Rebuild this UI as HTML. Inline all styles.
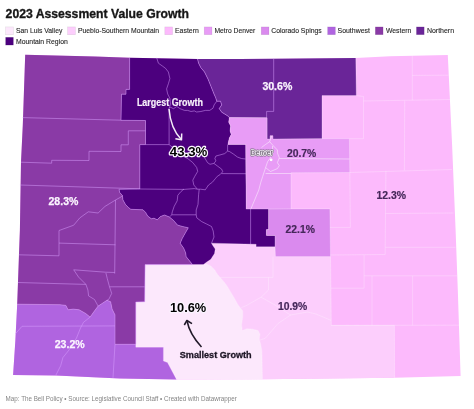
<!DOCTYPE html>
<html><head><meta charset="utf-8"><style>
html,body{margin:0;padding:0;background:#fff;width:474px;height:409px;overflow:hidden}
svg{display:block;will-change:transform}
text{font-family:"Liberation Sans",sans-serif}
.t{font-size:13.4px;font-weight:bold;fill:#161616;stroke:#161616;stroke-width:0.35px}
.lg{font-size:7.6px;fill:#262626;stroke:#262626;stroke-width:0.12px}
.ft{font-size:7.3px;fill:#858585}
.cl{fill:none;stroke:#d8a0ff;stroke-opacity:0.55;stroke-width:0.9;stroke-linejoin:round}
.clm{fill:none;stroke:#fff;stroke-opacity:0.5;stroke-width:0.95;stroke-linejoin:round}
.cll{fill:none;stroke:#fff;stroke-opacity:0.32;stroke-width:0.8;stroke-linejoin:round}
.lbw{font-size:10.8px;font-weight:bold;fill:#fbf4ff;stroke:#fbf4ff;stroke-width:0.25px}
.lbd{font-size:10.8px;font-weight:bold;fill:#45275a;stroke:#45275a;stroke-width:0.2px}
.big{font-size:13.2px;font-weight:bold;fill:#000;stroke:#faf4ff;stroke-width:2.4px;paint-order:stroke;stroke-linejoin:round}
.ann{font-size:10.1px;font-weight:bold}
</style></head><body>
<svg width="474" height="409" viewBox="0 0 474 409">
<text x="5.6" y="17.6" class="t" textLength="183.3" lengthAdjust="spacingAndGlyphs">2023 Assessment Value Growth</text>
<rect x="5.6" y="26.9" width="7.8" height="7.8" fill="#fce8fc" stroke="#000" stroke-opacity="0.1" stroke-width="0.6"/><text x="16.0" y="33.3" class="lg" textLength="46.3" lengthAdjust="spacingAndGlyphs">San Luis Valley</text><rect x="67.6" y="26.9" width="7.8" height="7.8" fill="#fccefc" stroke="#000" stroke-opacity="0.1" stroke-width="0.6"/><text x="78.0" y="33.3" class="lg" textLength="81" lengthAdjust="spacingAndGlyphs">Pueblo-Southern Mountain</text><rect x="164.8" y="26.9" width="7.8" height="7.8" fill="#fcbafc" stroke="#000" stroke-opacity="0.1" stroke-width="0.6"/><text x="175.0" y="33.3" class="lg" textLength="23.8" lengthAdjust="spacingAndGlyphs">Eastern</text><rect x="204.2" y="26.9" width="7.8" height="7.8" fill="#e89cf6" stroke="#000" stroke-opacity="0.1" stroke-width="0.6"/><text x="214.5" y="33.3" class="lg" textLength="40.8" lengthAdjust="spacingAndGlyphs">Metro Denver</text><rect x="261.2" y="26.9" width="7.8" height="7.8" fill="#da8aee" stroke="#000" stroke-opacity="0.1" stroke-width="0.6"/><text x="271.2" y="33.3" class="lg" textLength="50.6" lengthAdjust="spacingAndGlyphs">Colorado Spings</text><rect x="327.6" y="26.9" width="7.8" height="7.8" fill="#b064e0" stroke="#000" stroke-opacity="0.1" stroke-width="0.6"/><text x="337.5" y="33.3" class="lg" textLength="32.4" lengthAdjust="spacingAndGlyphs">Southwest</text><rect x="375.3" y="26.9" width="7.8" height="7.8" fill="#8a3aa6" stroke="#000" stroke-opacity="0.1" stroke-width="0.6"/><text x="386.0" y="33.3" class="lg" textLength="25.3" lengthAdjust="spacingAndGlyphs">Western</text><rect x="416.4" y="26.9" width="7.8" height="7.8" fill="#6a2598" stroke="#000" stroke-opacity="0.1" stroke-width="0.6"/><text x="426.90000000000003" y="33.3" class="lg" textLength="27.2" lengthAdjust="spacingAndGlyphs">Northern</text><rect x="5.6" y="37.3" width="7.8" height="7.8" fill="#4c007e" stroke="#000" stroke-opacity="0.1" stroke-width="0.6"/><text x="16.0" y="43.9" class="lg" textLength="51.8" lengthAdjust="spacingAndGlyphs">Mountain Region</text>
<polygon points="25.2,54.8 95.0,56.4 129.6,57.8 197.5,58.9 240.0,59.0 273.7,58.8 355.8,58.0 390.0,56.3 447.8,55.1 452.1,145.0 455.6,230.0 457.8,290.0 460.6,376.1 394.6,377.8 262.5,379.3 176.5,379.4 120.0,378.4 56.0,375.6 13.1,375.0 15.4,340.0 17.2,304.2 18.8,260.0 19.9,230.0 21.0,162.0 22.8,125.0" fill="#fcbafc"/><polygon points="211.5,243.2 256.1,244.3 256.1,246.8 275.0,246.8 275.5,256.6 330.5,256.6 331.3,325.4 394.4,325.4 394.6,377.8 262.5,379.3 262.5,379.3 262.2,365.0 261.8,350.0 260.6,344.0 259.3,339.1 260.0,334.2 258.1,330.6 253.2,329.3 247.1,328.7 242.2,330.6 241.6,324.4 242.8,317.1 242.8,311.0 237.8,304.5 234.1,297.8 230.5,291.7 226.8,285.6 223.1,280.7 217.6,274.6 214.6,269.7 210.9,266.0 206.5,264.0 203.5,264.5 206.4,262.3 210.8,259.3 214.5,253.5 215.2,249.1 212.3,244.7" fill="#fccefc"/><polygon points="145.1,264.6 192.5,264.6 203.5,264.5 206.5,264.0 210.9,266.0 214.6,269.7 217.6,274.6 223.1,280.7 226.8,285.6 230.5,291.7 234.1,297.8 237.8,304.5 242.8,311.0 242.8,317.1 241.6,324.4 242.2,330.6 247.1,328.7 253.2,329.3 258.1,330.6 260.0,334.2 259.3,339.1 260.6,344.0 261.8,350.0 262.2,365.0 262.5,379.3 176.5,379.4 167.5,362.6 163.4,360.9 163.4,347.2 135.8,347.2 135.8,302.0 144.7,301.8" fill="#fce8fc"/><polygon points="17.2,304.2 60.0,304.7 65.9,305.4 68.1,309.8 73.2,309.1 79.1,309.8 85.7,313.5 90.1,317.1 93.7,312.0 98.1,306.1 102.5,303.2 106.9,300.3 110.6,301.7 112.1,309.1 115.0,314.9 115.0,344.3 135.8,344.3 135.8,347.2 163.4,347.2 163.4,360.9 167.5,362.6 176.5,379.4 120.0,378.4 56.0,375.6 13.1,375.0 15.4,340.0" fill="#b064e0"/><polygon points="25.2,54.8 95.0,56.4 129.6,57.8 129.6,89.4 126.0,89.4 126.0,94.2 121.5,94.2 121.0,120.3 145.5,120.5 145.5,144.6 139.8,144.6 139.8,189.0 119.0,189.3 119.7,192.4 122.4,195.5 122.9,199.8 125.5,204.5 128.7,207.7 130.8,209.3 143.0,209.8 145.6,212.4 147.7,216.1 151.4,218.8 154.0,218.2 157.2,219.8 160.4,216.6 164.5,215.0 169.4,217.0 173.5,220.4 177.5,225.1 182.2,226.4 188.3,227.8 185.6,232.5 182.2,238.6 180.2,243.3 183.6,248.0 185.6,252.7 186.2,256.7 188.9,260.1 192.5,264.6 192.5,264.6 145.1,264.6 144.7,301.8 135.8,302.0 135.8,344.3 135.8,344.3 115.0,344.3 115.0,314.9 112.1,309.1 110.6,301.7 106.9,300.3 102.5,303.2 98.1,306.1 93.7,312.0 90.1,317.1 85.7,313.5 79.1,309.8 73.2,309.1 68.1,309.8 65.9,305.4 60.0,304.7 17.2,304.2 18.8,260.0 19.9,230.0 21.0,162.0 22.8,125.0" fill="#8a3aa6"/><polygon points="129.6,57.8 129.6,89.4 126.0,89.4 126.0,94.2 121.5,94.2 121.0,120.3 145.5,120.5 145.5,144.6 139.8,144.6 139.8,189.0 119.0,189.3 119.7,192.4 122.4,195.5 122.9,199.8 125.5,204.5 128.7,207.7 130.8,209.3 143.0,209.8 145.6,212.4 147.7,216.1 151.4,218.8 154.0,218.2 157.2,219.8 160.4,216.6 164.5,215.0 169.4,217.0 173.5,220.4 177.5,225.1 182.2,226.4 188.3,227.8 185.6,232.5 182.2,238.6 180.2,243.3 183.6,248.0 185.6,252.7 186.2,256.7 188.9,260.1 192.5,264.6 203.5,264.5 206.4,262.3 210.8,259.3 214.5,253.5 215.2,249.1 212.3,244.7 211.5,243.2 256.1,244.3 256.1,246.8 275.0,246.8 275.0,235.5 266.4,235.5 266.4,229.6 268.6,229.6 268.6,209.1 246.2,209.1 245.9,175.0 245.7,144.4 227.9,144.4 229.3,138.1 231.2,134.4 230.0,130.8 230.6,125.9 228.7,122.2 229.3,117.6 227.8,115.9 221.7,112.2 219.2,108.6 221.7,104.9 220.5,101.2 216.8,101.2 215.6,97.6 214.0,94.0 211.1,86.7 208.1,79.3 204.5,72.0 200.8,67.6 198.6,63.2 197.5,58.9" fill="#4c007e"/><polygon points="197.5,58.9 240.0,59.0 273.7,58.8 355.8,58.0 356.3,95.6 322.0,95.6 322.0,138.7 273.0,139.0 273.0,135.8 270.0,135.8 270.0,139.0 267.1,139.0 267.1,117.7 229.3,117.6 227.8,115.9 221.7,112.2 219.2,108.6 221.7,104.9 220.5,101.2 216.8,101.2 215.6,97.6 214.0,94.0 211.1,86.7 208.1,79.3 204.5,72.0 200.8,67.6 198.6,63.2 197.5,58.9" fill="#6a2598"/><polygon points="229.3,117.6 267.1,117.7 267.1,139.0 270.0,139.0 270.0,135.8 273.0,135.8 273.0,139.0 322.0,138.7 349.4,138.7 349.8,172.5 291.0,172.8 291.0,208.9 268.6,209.1 246.2,209.1 245.9,175.0 245.7,144.4 227.9,144.4 229.3,138.1 231.2,134.4 230.0,130.8 230.6,125.9 228.7,122.2 229.3,117.6" fill="#e89cf6"/><polygon points="268.6,209.1 291.0,208.9 329.9,208.9 330.5,256.6 275.5,256.6 275.0,246.8 275.0,235.5 266.4,235.5 266.4,229.6 268.6,229.6" fill="#da8aee"/>
<g class="cl"><polyline points="22.5,117.6 121.0,120.2"/><polyline points="21.0,162.2 51.7,163.2 51.7,160.3 89.0,160.5 89.0,151.3 121.0,151.5 121.0,144.8 128.3,144.8 128.3,130.8 145.5,130.8"/><polyline points="19.9,185.0 139.8,188.8"/><polyline points="122.4,195.5 121.1,196.9 115.5,200.0 105.0,206.4 98.1,213.0 88.3,211.8 79.8,217.9 73.7,225.2 60.2,230.1 59.0,230.5 59.0,255.8 18.6,254.8"/><polyline points="59.0,243.1 115.5,244.8"/><polyline points="115.5,200.0 114.7,273.6"/><polyline points="73.7,269.8 105.5,272.2 114.7,272.5"/><polyline points="73.7,269.8 78.6,277.1 85.9,284.4 87.9,290.0 88.6,295.9 94.5,299.5 98.1,306.1"/><polyline points="17.8,282.5 85.9,284.4"/><polyline points="105.9,272.9 107.3,278.7 109.5,286.8 111.7,293.4 108.8,299.3 106.9,300.3"/><polyline points="109.5,286.8 144.7,286.8"/><polyline points="15.3,334.0 22.0,326.3 115.0,325.9"/><polyline points="90.1,317.1 83.5,322.3 80.5,328.0 76.5,338.0 69.0,350.0 62.9,357.6 60.7,365.7 55.8,375.3"/><polyline points="115.0,344.3 113.0,377.8"/><polyline points="156.7,57.8 158.4,63.2 162.5,66.1 165.5,68.3 168.4,72.0 169.9,78.6 168.4,83.7 166.6,88.9 167.7,94.0 169.9,98.4 170.6,104.3 169.1,108.2"/><polyline points="169.1,108.2 170.2,107.1 173.5,108.7 176.8,106.5 180.1,108.7 184.5,110.4 187.7,110.4 191.0,111.5 194.3,110.9 196.5,112.0 200.9,111.5 205.3,110.4 209.7,110.4 213.0,108.2 214.1,104.9 216.8,101.2"/><polyline points="169.1,108.2 169.1,144.6"/><polyline points="145.5,144.6 169.1,144.6"/><polyline points="169.1,144.6 184.0,156.6 187.9,158.7 192.8,162.6 196.7,167.5 197.7,171.4 194.8,176.3 192.8,180.2 193.8,185.0 197.4,189.2"/><polyline points="139.8,189.0 184.0,189.4 194.3,188.6 197.4,189.2 200.5,189.2 205.3,189.8"/><polyline points="184.0,189.0 180.9,191.6 177.8,195.3 177.2,200.8 174.2,206.3 172.3,211.8 171.7,214.8 169.9,216.7"/><polyline points="171.7,214.8 196.2,214.8"/><polyline points="199.2,189.2 198.6,194.7 198.0,204.4 196.2,210.0 196.2,214.8 196.8,217.9 201.7,221.6 206.6,224.0 211.5,226.5 213.2,231.0 214.0,237.0 211.5,243.2"/><polyline points="205.3,189.8 208.5,185.0 212.4,182.2 215.3,178.7 217.3,176.3 220.2,174.5 222.7,171.7 221.7,169.2 217.8,166.3 213.9,163.4"/><polyline points="203.5,156.2 204.6,157.7 207.5,162.6 210.0,164.3 213.9,163.4"/><polyline points="213.9,163.4 215.9,160.9 214.9,158.5 215.9,156.0 219.8,155.0 224.7,153.6 227.6,151.1"/><polyline points="227.6,144.6 227.6,151.1 229.6,151.6 233.5,154.1 237.4,157.0 241.3,158.5 245.7,159.0"/><polyline points="221.5,173.6 245.9,173.7"/><polyline points="250.6,209.1 250.6,244.0"/><polyline points="273.7,58.8 273.7,111.4 266.6,111.4 266.6,117.7"/><polyline points="129.6,57.8 129.6,89.4 126.0,89.4 126.0,94.2 121.5,94.2 121.0,120.3 145.5,120.5 145.5,144.6 139.8,144.6 139.8,189.0 119.0,189.3 119.7,192.4 122.4,195.5 122.9,199.8 125.5,204.5 128.7,207.7 130.8,209.3 143.0,209.8 145.6,212.4 147.7,216.1 151.4,218.8 154.0,218.2 157.2,219.8 160.4,216.6 164.5,215.0 169.4,217.0 173.5,220.4 177.5,225.1 182.2,226.4 188.3,227.8 185.6,232.5 182.2,238.6 180.2,243.3 183.6,248.0 185.6,252.7 186.2,256.7 188.9,260.1 192.5,264.6"/><polyline points="192.5,264.6 145.1,264.6 144.7,301.8 135.8,302.0 135.8,344.3"/><polyline points="135.8,344.3 115.0,344.3 115.0,314.9 112.1,309.1 110.6,301.7 106.9,300.3 102.5,303.2 98.1,306.1 93.7,312.0 90.1,317.1 85.7,313.5 79.1,309.8 73.2,309.1 68.1,309.8 65.9,305.4 60.0,304.7 17.2,304.2"/><polyline points="229.3,117.6 227.8,115.9 221.7,112.2 219.2,108.6 221.7,104.9 220.5,101.2 216.8,101.2 215.6,97.6 214.0,94.0 211.1,86.7 208.1,79.3 204.5,72.0 200.8,67.6 198.6,63.2 197.5,58.9"/></g><g class="cll"><polyline points="356.3,95.6 363.5,96.5 363.5,138.7 349.4,138.7"/><polyline points="363.5,101.0 450.0,99.5"/><polyline points="404.7,100.8 404.4,170.5"/><polyline points="412.3,55.6 412.3,100.3"/><polyline points="412.3,75.4 448.6,75.2"/><polyline points="349.8,172.5 452.0,169.5"/><polyline points="385.9,170.8 385.2,247.3"/><polyline points="385.6,213.5 453.5,213.0"/><polyline points="385.2,247.3 455.5,247.3"/><polyline points="349.8,172.5 350.4,227.4 330.0,227.4"/><polyline points="330.3,255.0 385.2,254.5 385.2,247.3"/><polyline points="364.1,255.0 364.1,288.2 331.0,288.2"/><polyline points="364.1,275.8 457.0,275.8"/><polyline points="372.0,275.8 372.0,325.3"/><polyline points="412.6,275.8 412.6,325.3"/><polyline points="331.3,325.4 460.0,325.2"/><polyline points="273.0,256.6 273.0,277.4 220.2,277.4"/><polyline points="268.5,277.4 268.5,290.0 261.1,297.2 246.3,305.6 241.5,307.5"/><polyline points="261.1,297.2 275.0,305.0 290.6,315.0 307.5,312.0 316.0,314.0 331.1,320.4"/><polyline points="290.6,315.0 278.0,323.5 265.3,338.3 260.0,340.0"/><polyline points="203.5,264.5 206.5,264.0 210.9,266.0 214.6,269.7 217.6,274.6 223.1,280.7 226.8,285.6 230.5,291.7 234.1,297.8 237.8,304.5 242.8,311.0 242.8,317.1 241.6,324.4 242.2,330.6 247.1,328.7 253.2,329.3 258.1,330.6 260.0,334.2 259.3,339.1 260.6,344.0 261.8,350.0 262.2,365.0 262.5,379.3"/><polyline points="192.5,264.6 203.5,264.5 206.4,262.3 210.8,259.3 214.5,253.5 215.2,249.1 212.3,244.7 211.5,243.2 256.1,244.3 256.1,246.8 275.0,246.8"/><polyline points="275.0,246.8 275.0,235.5 266.4,235.5 266.4,229.6 268.6,229.6 268.6,209.1 246.2,209.1"/><polyline points="246.2,209.1 245.9,175.0 245.7,144.4 227.9,144.4 229.3,138.1 231.2,134.4 230.0,130.8 230.6,125.9 228.7,122.2 229.3,117.6"/><polyline points="356.3,95.6 322.0,95.6 322.0,138.7 273.0,139.0 273.0,135.8 270.0,135.8 270.0,139.0 267.1,139.0 267.1,117.7 229.3,117.6"/><polyline points="355.8,58.0 356.3,95.6"/><polyline points="322.0,138.7 349.4,138.7 349.8,172.5 291.0,172.8 291.0,208.9 268.6,209.1"/><polyline points="291.0,208.9 329.9,208.9 330.5,256.6 275.5,256.6 275.0,246.8"/><polyline points="330.5,256.6 331.3,325.4 394.4,325.4 394.6,377.8"/><polyline points="135.8,344.3 135.8,347.2 163.4,347.2 163.4,360.9 167.5,362.6 176.5,379.4"/></g><g class="clm"><polyline points="271.6,135.9 269.7,141.7 265.5,144.5 261.5,147.5"/><polyline points="269.7,141.7 273.5,146.0 277.4,150.0 277.4,152.9 279.3,157.8 277.4,162.7 279.3,165.6 277.4,168.6 270.5,171.5 265.6,167.6"/><polyline points="272.5,146.0 272.5,154.9 267.6,161.7 265.6,167.6 262.7,176.4 260.8,182.3 258.8,190.0 251.0,208.7"/><polyline points="279.3,158.5 349.6,159.0"/><polyline points="265.6,173.5 291.0,173.5"/></g>
<text x="262.4" y="90.0" class="lbw" textLength="29.9" lengthAdjust="spacingAndGlyphs">30.6%</text><text x="286.9" y="157.0" class="lbd" textLength="29.4" lengthAdjust="spacingAndGlyphs">20.7%</text><text x="376.4" y="199.3" class="lbd" textLength="29.6" lengthAdjust="spacingAndGlyphs">12.3%</text><text x="48.5" y="204.8" class="lbw" textLength="29.9" lengthAdjust="spacingAndGlyphs">28.3%</text><text x="285.6" y="232.6" class="lbd" textLength="29.4" lengthAdjust="spacingAndGlyphs">22.1%</text><text x="277.9" y="310.1" class="lbd" textLength="29.4" lengthAdjust="spacingAndGlyphs">10.9%</text><text x="54.7" y="347.6" class="lbw" textLength="30.1" lengthAdjust="spacingAndGlyphs">23.2%</text><text x="169.8" y="156.0" class="big" textLength="37.4" lengthAdjust="spacingAndGlyphs">43.3%</text><text x="169.9" y="312.0" class="big" textLength="36.4" lengthAdjust="spacingAndGlyphs">10.6%</text><text x="136.9" y="105.8" class="ann" textLength="66.0" lengthAdjust="spacingAndGlyphs" fill="#f6eefa" style="stroke:#f6eefa;stroke-width:0.2px">Largest Growth</text><text x="179.7" y="358.3" class="ann" textLength="72.0" lengthAdjust="spacingAndGlyphs" fill="#1c1424" style="font-size:9.7px;stroke:#1c1424;stroke-width:0.3px">Smallest Growth</text>
<path d="M169,109 C170,121 174,132 181.3,139.6" fill="none" stroke="#f4ecf8" stroke-width="1.5"/>
<path d="M175.4,138.8 L181.5,139.8 L181.7,133.6" fill="none" stroke="#f4ecf8" stroke-width="1.5" stroke-linejoin="round"/>
<path d="M201.5,347 C195,340 189,331 186.9,320.5" fill="none" stroke="#221a2a" stroke-width="1.55"/>
<path d="M184.3,325 L186.9,320.5 L192,323.6" fill="none" stroke="#221a2a" stroke-width="1.55" stroke-linejoin="round"/>
<text x="250.8" y="154.6" textLength="22.0" lengthAdjust="spacingAndGlyphs" style="font-size:8.0px;fill:#7a6a82;stroke:#7a6a82;stroke-width:2.8px;stroke-linejoin:round">Denver</text>
<text x="250.8" y="154.6" textLength="22.0" lengthAdjust="spacingAndGlyphs" style="font-size:8.0px;fill:#f4eef6;stroke:#f4eef6;stroke-width:1.7px;stroke-linejoin:round">Denver</text>
<text x="250.8" y="154.6" textLength="22.0" lengthAdjust="spacingAndGlyphs" style="font-size:8.0px;fill:#554a5c">Denver</text>
<circle cx="271.1" cy="159.8" r="1.4" fill="#fff"/>
<text x="5.6" y="401.2" class="ft" textLength="231.2" lengthAdjust="spacingAndGlyphs">Map: The Bell Policy • Source: Legislative Council Staff • Created with Datawrapper</text>
</svg>
</body></html>
